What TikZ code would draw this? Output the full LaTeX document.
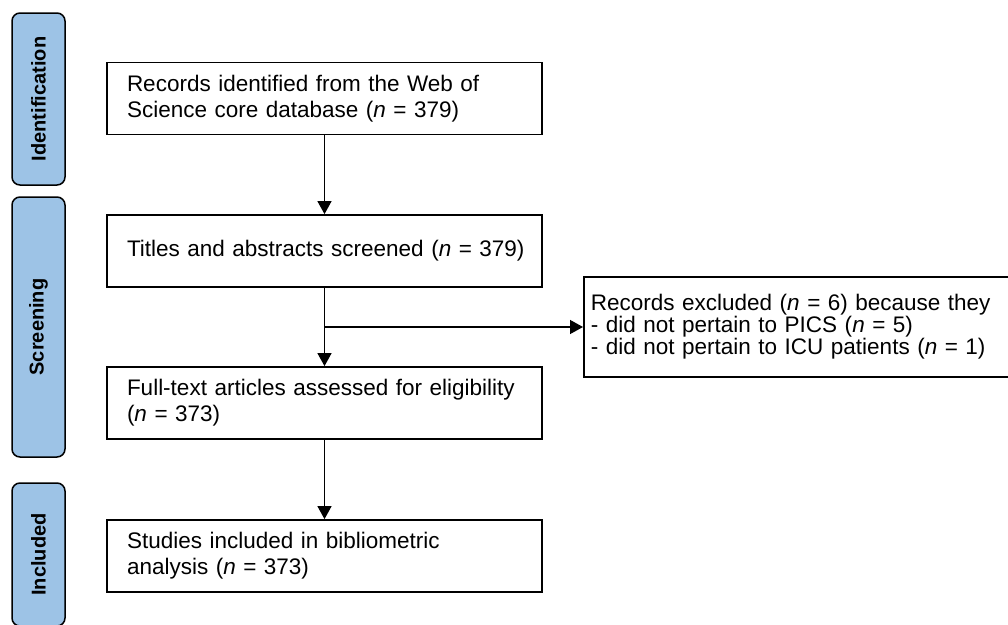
\documentclass[tikz,border=0pt]{standalone}
\usepackage{fontspec}
\setmainfont{Liberation Sans}
\usetikzlibrary{arrows.meta}
\definecolor{phaseblue}{RGB}{157,195,230}
\tikzset{
  phase/.style={draw=black, line width=1.5pt, fill=phaseblue, rounded corners=8pt,
    rotate=90, minimum height=53pt, inner sep=0pt,
    font=\fontsize{20}{24}\selectfont\bfseries},
  mainbox/.style={draw=black, line width=1.8pt, minimum width=435pt, minimum height=72pt,
    text width=395pt, inner xsep=20pt, inner ysep=0pt, align=left,
    font=\fontsize{22.5}{26}\selectfont},
  exclbox/.style={draw=black, line width=1.8pt, minimum height=100pt,
    text width=440pt, inner xsep=7pt, inner ysep=0pt, align=left, anchor=west,
    font=\fontsize{22.5}{22}\selectfont},
  conn/.style={line width=1.3pt, -{Triangle[length=13pt,width=14pt]}}
}
\begin{document}
\begin{tikzpicture}[x=1pt,y=-1pt]
\clip (0,0) rectangle (1008,624);
\fill[white] (0,0) rectangle (1008,624);
% phase bars
\node[phase, minimum width=172pt] (pid) at (38.5,99) {Identification};
\node[phase, minimum width=260pt] (psc) at (38.5,327) {Screening};
\node[phase, minimum width=143pt] (pin) at (38.5,554.5) {Included};
% boxes
\node[mainbox] (b1) at (324.5,98.5) {Records identified from the Web of\\Science core database (\textit{n} = 379)};
\node[mainbox] (b2) at (324.5,251) {\mbox{Titles and abstracts screened (\textit{n} = 379)}};
\node[mainbox] (b3) at (324.5,403) {Full-text articles assessed for eligibility\\(\textit{n} = 373)};
\node[mainbox] (b4) at (324.5,556) {Studies included in bibliometric\\analysis (\textit{n} = 373)};
\node[exclbox] (ex) at (583,327) {Records excluded (\textit{n} = 6) because they\\- did not pertain to PICS (\textit{n} = 5)\\- did not pertain to ICU patients (\textit{n} = 1)};
% connectors
\draw[conn] (b1) -- (b2);
\draw[conn] (b2) -- (b3);
\draw[conn] (b3) -- (b4);
\coordinate (split) at (b2.south |- ex.west);
\draw[conn] (split) -- (ex.west);
\end{tikzpicture}
\end{document}
